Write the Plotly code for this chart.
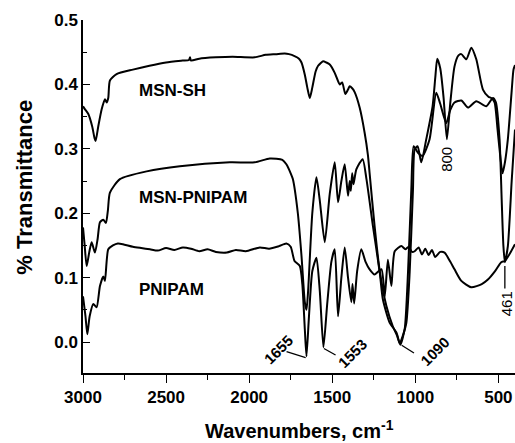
import plotly.graph_objects as go

# ---------------- data (wavenumber, % transmittance) ----------------
msn_sh_x = [3000, 2990, 2968, 2945, 2930, 2924, 2908, 2888, 2868, 2858, 2848, 2838, 2798, 2700,
            2600, 2500, 2400, 2362, 2356, 2350, 2300, 2200, 2100, 1966, 1900, 1840, 1786, 1760,
            1727, 1700, 1685, 1665, 1650, 1635, 1620, 1600, 1585, 1555, 1535, 1515, 1485, 1465,
            1455, 1440, 1421, 1405, 1395, 1380, 1365, 1335, 1305, 1285, 1275, 1245, 1214, 1174,
            1136, 1110, 1094, 1075, 1054, 1034, 1014, 1004, 986, 964, 934, 896, 880, 868, 850,
            830, 810, 790, 764, 740, 723, 693, 663, 633, 593, 560, 543, 523, 505, 493, 475, 460,
            443, 420, 409, 400]
msn_sh_y = [0.366, 0.362, 0.354, 0.335, 0.316, 0.312, 0.335, 0.361, 0.377, 0.372, 0.379, 0.406,
            0.416, 0.423, 0.429, 0.434, 0.437, 0.438, 0.442, 0.437, 0.440, 0.442, 0.443, 0.442,
            0.446, 0.447, 0.448, 0.447, 0.444, 0.440, 0.434, 0.415, 0.395, 0.379, 0.395, 0.420,
            0.429, 0.436, 0.434, 0.431, 0.418, 0.405, 0.400, 0.403, 0.385, 0.392, 0.397, 0.394,
            0.388, 0.364, 0.325, 0.290, 0.262, 0.180, 0.110, 0.056, 0.025, 0.010, -0.002, 0.010,
            0.030, 0.108, 0.237, 0.299, 0.304, 0.279, 0.315, 0.366, 0.410, 0.440, 0.425, 0.380,
            0.315, 0.370, 0.428, 0.445, 0.447, 0.439, 0.457, 0.439, 0.392, 0.381, 0.379, 0.372,
            0.330, 0.299, 0.262, 0.280, 0.315, 0.390, 0.423, 0.430]

msn_pnipam_x = [3000, 2990, 2978, 2962, 2948, 2928, 2912, 2898, 2878, 2862, 2850, 2838, 2778, 2617,
                2417, 2116, 1966, 1876, 1800, 1776, 1750, 1737, 1707, 1685, 1665, 1655, 1645, 1620,
                1595, 1575, 1545, 1515, 1485, 1465, 1445, 1425, 1405, 1395, 1388, 1380, 1372, 1355,
                1317, 1294, 1255, 1214, 1195, 1154, 1114, 1090, 1064, 1044, 1024, 1010, 984, 956,
                914, 874, 850, 814, 790, 764, 723, 683, 633, 573, 533, 515, 493, 480, 470, 461, 443,
                420, 400]
msn_pnipam_y = [0.178, 0.150, 0.118, 0.140, 0.155, 0.139, 0.160, 0.186, 0.190, 0.185, 0.205, 0.232,
                0.253, 0.265, 0.273, 0.279, 0.279, 0.285, 0.283, 0.276, 0.262, 0.253, 0.200, 0.134,
                0.062, 0.050, 0.080, 0.200, 0.256, 0.220, 0.155, 0.230, 0.279, 0.217, 0.250, 0.276,
                0.227, 0.250, 0.235, 0.262, 0.245, 0.268, 0.284, 0.253, 0.180, 0.108, 0.066, 0.030,
                0.015, -0.004, 0.020, 0.108, 0.237, 0.304, 0.294, 0.289, 0.315, 0.387, 0.370, 0.340,
                0.360, 0.372, 0.375, 0.364, 0.374, 0.366, 0.379, 0.372, 0.315, 0.220, 0.150, 0.124,
                0.149, 0.250, 0.330]

pnipam_x = [3000, 2985, 2974, 2960, 2938, 2918, 2898, 2878, 2868, 2848, 2820, 2790, 2760, 2700,
            2650, 2597, 2550, 2500, 2450, 2399, 2350, 2300, 2250, 2200, 2134, 2080, 2020, 1936,
            1880, 1820, 1776, 1750, 1727, 1695, 1680, 1665, 1655, 1640, 1620, 1595, 1575, 1553,
            1530, 1505, 1485, 1465, 1445, 1425, 1405, 1385, 1378, 1368, 1350, 1325, 1300, 1275,
            1245, 1204, 1184, 1165, 1144, 1124, 1084, 1060, 1040, 1020, 1004, 980, 960, 940, 920,
            900, 880, 850, 824, 790, 764, 723, 663, 600, 563, 520, 483, 461, 430, 400]
pnipam_y = [0.071, 0.040, 0.012, 0.040, 0.059, 0.054, 0.087, 0.102, 0.095, 0.144, 0.150, 0.153,
            0.152, 0.148, 0.146, 0.144, 0.142, 0.146, 0.143, 0.147, 0.145, 0.141, 0.144, 0.140,
            0.139, 0.143, 0.141, 0.147, 0.145, 0.149, 0.153, 0.148, 0.126, 0.118, 0.090, 0.020,
            -0.022, 0.040, 0.110, 0.131, 0.080, -0.008, 0.060, 0.125, 0.144, 0.040, 0.100, 0.147,
            0.100, 0.062, 0.090, 0.060, 0.110, 0.144, 0.125, 0.113, 0.105, 0.113, 0.071, 0.128,
            0.087, 0.141, 0.149, 0.144, 0.148, 0.140, 0.141, 0.147, 0.136, 0.145, 0.135, 0.143,
            0.132, 0.140, 0.139, 0.125, 0.113, 0.095, 0.085, 0.090, 0.097, 0.110, 0.124, 0.126,
            0.138, 0.152]

x_ticks = [3000, 2500, 2000, 1500, 1000, 500]
y_ticks = [0.0, 0.1, 0.2, 0.3, 0.4, 0.5]

series_labels = ["MSN-SH", "MSN-PNIPAM", "PNIPAM"]
label_y = [0.391, 0.225, 0.082]
label_x = 2675

FONT = "Liberation Sans, Arial, sans-serif"

fig = go.Figure()
for xs, ys in [(msn_sh_x, msn_sh_y), (msn_pnipam_x, msn_pnipam_y), (pnipam_x, pnipam_y)]:
    fig.add_trace(go.Scatter(x=xs, y=ys, mode="lines",
                             line=dict(color="black", width=2, shape="spline", smoothing=0.6),
                             showlegend=False, hoverinfo="skip"))

annotations = []
for name, ly in zip(series_labels, label_y):
    annotations.append(dict(x=label_x, y=ly, xref="x", yref="y", text="<b>%s</b>" % name,
                            showarrow=False, xanchor="left", yanchor="middle",
                            font=dict(family=FONT, size=17, color="black")))

# peak labels
peak_labels = [
    dict(x=1822, y=-0.012, text="<b>1655</b>", textangle=-45, size=15),
    dict(x=1379, y=-0.018, text="<b>1553</b>", textangle=-45, size=15),
    dict(x=884, y=-0.014, text="<b>1090</b>", textangle=-45, size=15),
    dict(x=809, y=0.283, text="800", textangle=-90, size=15),
    dict(x=449, y=0.060, text="461", textangle=-90, size=15),
]
for p in peak_labels:
    annotations.append(dict(x=p["x"], y=p["y"], xref="x", yref="y", text=p["text"],
                            textangle=p["textangle"], showarrow=False,
                            xanchor="center", yanchor="middle",
                            font=dict(family=FONT, size=p["size"], color="black")))

# axis titles
annotations.append(dict(x=0.5, y=-0.16, xref="paper", yref="paper",
                        text="<b>Wavenumbers, cm<sup>-1</sup></b>", showarrow=False,
                        xanchor="center", yanchor="middle",
                        font=dict(family=FONT, size=20, color="black")))
annotations.append(dict(x=-0.135, y=0.527, xref="paper", yref="paper",
                        text="<b>% Transmittance</b>", textangle=-90, showarrow=False,
                        xanchor="center", yanchor="middle",
                        font=dict(family=FONT, size=22, color="black")))

leaders = [
    (1775, -0.015, 1660, -0.024),
    (1550, -0.010, 1480, -0.020),
    (1082, -0.005, 1008, -0.017),
    (461, 0.118, 461, 0.083),
]
shapes = [dict(type="line", xref="x", yref="y", x0=a, y0=b, x1=c, y1=d,
               line=dict(color="black", width=1.3)) for a, b, c, d in leaders]

fig.update_layout(
    width=515, height=443,
    margin=dict(l=83, r=0, t=20, b=70),
    paper_bgcolor="white", plot_bgcolor="white",
    annotations=annotations, shapes=shapes,
    font=dict(family=FONT, color="black"),
    xaxis=dict(range=[3000, 400], tickvals=x_ticks,
               ticktext=["<b>%d</b>" % v for v in x_ticks],
               ticks="outside", ticklen=8, tickwidth=1.3, tickcolor="black",
               minor=dict(dtick=250, ticks="outside", ticklen=5, tickwidth=1.3, tickcolor="black"),
               showline=True, linecolor="black", linewidth=1.5,
               showgrid=False, zeroline=False,
               tickfont=dict(family=FONT, size=17, color="black")),
    yaxis=dict(range=[-0.048, 0.5], tickvals=y_ticks,
               ticktext=["<b>%.1f</b>" % v for v in y_ticks],
               ticks="inside", ticklen=7, tickwidth=1.3, tickcolor="black",
               minor=dict(dtick=0.05, tick0=0, ticks="inside", ticklen=4, tickwidth=1.3, tickcolor="black"),
               showline=True, linecolor="black", linewidth=1.5,
               showgrid=False, zeroline=False,
               tickfont=dict(family=FONT, size=17, color="black")),
)

fig.write_html("out.html")
